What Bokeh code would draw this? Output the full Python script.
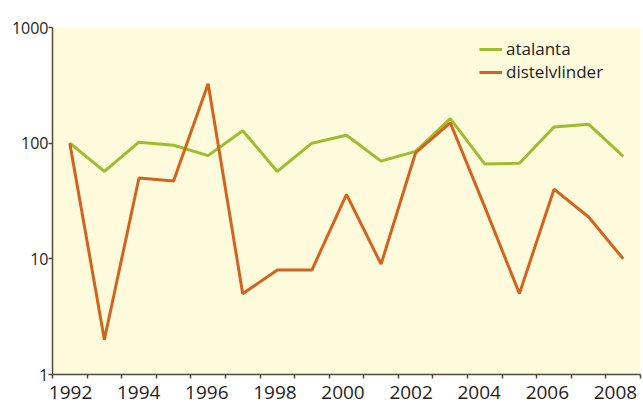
from bokeh.plotting import figure
from bokeh.models import (Range1d, LinearAxis, FixedTicker, Legend, LegendItem,
                          NumeralTickFormatter)
from bokeh.embed import file_html
from bokeh.resources import INLINE

# ---- data ----
years = [1992, 1993, 1994, 1995, 1996, 1997, 1998, 1999, 2000,
         2001, 2002, 2003, 2004, 2005, 2006, 2007, 2008]
atalanta = [100, 57, 102, 96, 78, 128, 57, 100, 117,
            70, 85, 163, 66, 67, 138, 146, 77]
distelvlinder = [100, 2, 50, 47, 327, 5, 8, 8, 36,
                 9, 83, 150, 28, 5, 40, 23, 10]
x_tick_years = [1992, 1994, 1996, 1998, 2000, 2002, 2004, 2006, 2008]
x_tick_labels = ["1992", "1994", "1996", "1998", "2000", "2002", "2004", "2006", "2008"]
x_bounds = [y + 0.5 for y in range(1991, 2009)]
y_ticks = [1, 10, 100, 1000]
y_tick_labels = ["1", "10", "100", "1000"]
series_names = ["atalanta", "distelvlinder"]

GREEN = "#9ebd2c"
ORANGE = "#d3641f"
AXIS = "#54483c"
TEXT = "#1e1e1e"
FONT = "Open Sans"

p = figure(width=643, height=405, y_axis_type="log",
           x_range=Range1d(1991.5, 2008.5), y_range=Range1d(1, 1000),
           output_backend="svg", toolbar_location=None,
           min_border_left=52, min_border_right=3, min_border_top=27,
           min_border_bottom=31)
p.background_fill_color = "#fdfbdb"
p.border_fill_color = "white"
p.outline_line_color = None
p.xgrid.visible = False
p.ygrid.visible = False

r1 = p.line(years, atalanta, line_color=GREEN, line_width=3)
r2 = p.line(years, distelvlinder, line_color=ORANGE, line_width=3)

# main x axis: axis line and small ticks between years
xa = p.xaxis[0]
xa.ticker = FixedTicker(ticks=[], minor_ticks=x_bounds)
xa.axis_line_color = AXIS
xa.axis_line_width = 1.5
xa.major_tick_line_color = None
xa.minor_tick_line_color = AXIS
xa.minor_tick_line_width = 1.5
xa.minor_tick_in = 0
xa.minor_tick_out = 4
xa.major_label_standoff = 0
xa.major_label_text_font_size = "0px"

# label axis for the year labels
p.extra_x_ranges = {"labels": Range1d(1991.47, 2008.735)}
xl = LinearAxis(x_range_name="labels",
                ticker=FixedTicker(ticks=x_tick_years, minor_ticks=[]),
                major_label_overrides={y: s for y, s in zip(x_tick_years, x_tick_labels)},
                axis_line_color=None, major_tick_line_color=None,
                minor_tick_line_color=None, major_tick_out=0, major_tick_in=0,
                minor_tick_out=0, minor_tick_in=0, major_label_standoff=7)
xl.major_label_text_font = FONT
xl.major_label_text_font_size = "19px"
xl.major_label_text_color = TEXT
p.add_layout(xl, "below")

ya = p.yaxis[0]
ya.ticker = FixedTicker(ticks=y_ticks, minor_ticks=[])
ya.formatter = NumeralTickFormatter(format="0")
ya.major_label_overrides = {t: s for t, s in zip(y_ticks, y_tick_labels)}
ya.axis_line_color = AXIS
ya.axis_line_width = 1.5
ya.major_tick_line_color = AXIS
ya.major_tick_line_width = 1.5
ya.major_tick_in = 0
ya.major_tick_out = 4
ya.minor_tick_line_color = None
ya.major_label_standoff = 0
ya.major_label_text_font = FONT
ya.major_label_text_font_size = "16px"
ya.major_label_text_color = TEXT

legend = Legend(items=[LegendItem(label=series_names[0], renderers=[r1]),
                       LegendItem(label=series_names[1], renderers=[r2])],
                location=(427, 291), padding=0, margin=0, spacing=0,
                glyph_width=23, glyph_height=20, label_height=20,
                label_standoff=4, border_line_color=None,
                background_fill_alpha=0)
legend.label_text_font = FONT
legend.label_text_font_size = "17px"
legend.label_text_color = TEXT
p.add_layout(legend)

open("out.html", "w").write(file_html(p, INLINE))
